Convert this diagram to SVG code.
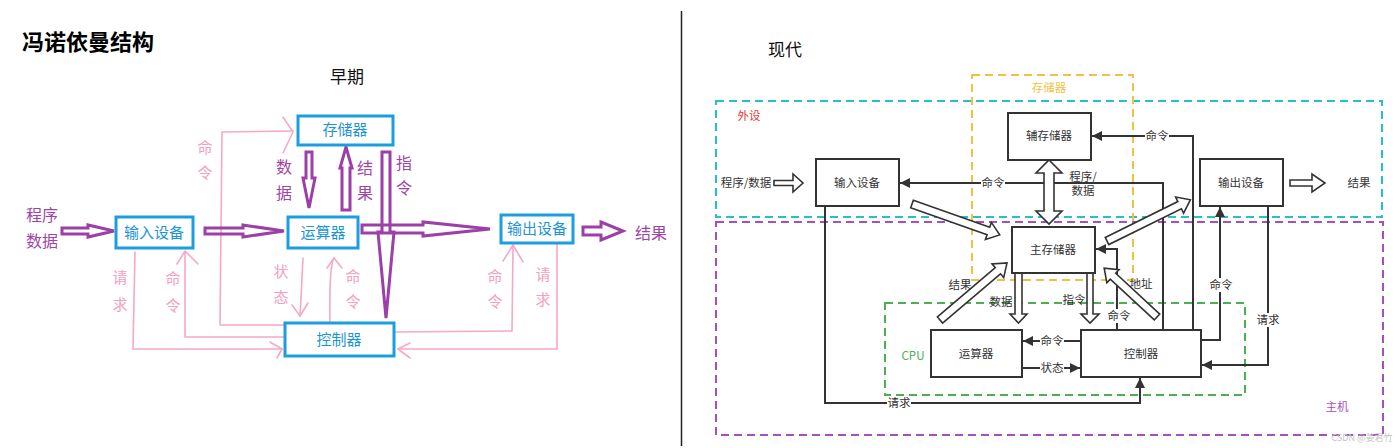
<svg xmlns="http://www.w3.org/2000/svg" width="1400" height="448" viewBox="0 0 1400 448">
<defs>
<style>
text{font-family:"Noto Sans CJK SC","Liberation Sans",sans-serif;}
.title{font-size:22px;font-weight:bold;fill:#000;}
.sub{font-size:17px;fill:#111;}
.lbox{fill:#fff;stroke:#1a9ee0;stroke-width:3;}
.ltxt{font-size:15px;fill:#1b95d6;text-anchor:middle;}
.ptxt{font-size:16px;fill:#a045a8;text-anchor:middle;}
.pink{fill:none;stroke:#f6a8c8;stroke-width:1.6;stroke-linejoin:round;stroke-linecap:round;}
.pktxt{font-size:15px;fill:#f3a0c2;text-anchor:middle;}
.parr{fill:none;stroke:#9c3fa6;stroke-width:3;stroke-linejoin:miter;}
.rbox{fill:#fff;stroke:#333;stroke-width:2;}
.rtxt{font-size:11.5px;fill:#333;text-anchor:middle;}
.conn{fill:none;stroke:#333;stroke-width:2;}
.harr{fill:#fff;stroke:#333;stroke-width:1.6;stroke-linejoin:miter;}
.bg{fill:#fff;}
.dash{fill:none;stroke-width:2;stroke-dasharray:8 5;}
</style>
<marker id="ah" viewBox="0 0 10 10" refX="10" refY="5" markerWidth="10" markerHeight="10" markerUnits="userSpaceOnUse" orient="auto">
<path d="M0,0 L10,5 L0,10 Z" fill="#333"/>
</marker>
</defs>
<rect width="1400" height="448" fill="#fff"/>

<!-- Left: early structure -->
<text class="title" x="22" y="50">冯诺依曼结构</text>
<text class="sub" x="330" y="83">早期</text>

<g id="left-connectors">
  <!-- pink control lines -->
  <polyline class="pink" points="285,325 220,325 222,132 293,131"/>
  <polyline class="pink" points="283,117 293,132 283,153"/>
  <polyline class="pink" points="135,252 133,349 282,349"/>
  <polyline class="pink" points="270,342 282,349 277,358"/>
  <polyline class="pink" points="285,337 185,337 185,252"/>
  <polyline class="pink" points="177,264 185,251 198,264"/>
  <polyline class="pink" points="303,258 300,316"/>
  <polyline class="pink" points="292,305 300,316 308,303"/>
  <path class="pink" d="M330,322 Q329,266 334,258"/>
  <polyline class="pink" points="327,268 334,258 342,268"/>
  <polyline class="pink" points="394,332 512,331 513,245"/>
  <polyline class="pink" points="503,261 513,245 523,262"/>
  <polyline class="pink" points="557,243 557,349 398,349"/>
  <polyline class="pink" points="410,343 398,349 410,358"/>
  <!-- purple data arrows -->
  <polygon class="parr" points="62,228 88,228 88,225 114,231 88,237 88,234 62,234"/>
  <polygon class="parr" points="205,228 243,228 243,225 284,231 243,237 243,234 205,234"/>
  <polygon class="parr" points="306,152 312,152 312,178 315,178 309,208 303,178 306,178"/>
  <polygon class="parr" points="342,210 350,210 350,168 352,168 346,147 340,168 342,168"/>
  <polygon class="parr" points="382,152 390,152 390,232 394,232 386,318 378,232 382,232"/>
  <polygon class="parr" points="362,225 423,225 423,222 490,229 423,236 423,233 362,233"/>
  <polygon class="parr" points="583,227 601,227 601,222 623,231 601,240 601,235 583,235"/>
</g>

<g id="left-labels">
  <text class="ptxt" x="42" y="221">程序</text>
  <text class="ptxt" x="42" y="247">数据</text>
  <text class="ptxt" x="284" y="173">数</text>
  <text class="ptxt" x="284" y="199">据</text>
  <text class="ptxt" x="365" y="174">结</text>
  <text class="ptxt" x="365" y="199">果</text>
  <text class="ptxt" x="404" y="169">指</text>
  <text class="ptxt" x="404" y="194">令</text>
  <text class="ptxt" x="651" y="239">结果</text>
  <text class="pktxt" x="205" y="153">命</text>
  <text class="pktxt" x="205" y="178">令</text>
  <text class="pktxt" x="120" y="283">请</text>
  <text class="pktxt" x="120" y="310">求</text>
  <text class="pktxt" x="173" y="284">命</text>
  <text class="pktxt" x="173" y="311">令</text>
  <text class="pktxt" x="281" y="277">状</text>
  <text class="pktxt" x="281" y="303">态</text>
  <text class="pktxt" x="353" y="282">命</text>
  <text class="pktxt" x="353" y="307">令</text>
  <text class="pktxt" x="495" y="282">命</text>
  <text class="pktxt" x="495" y="307">令</text>
  <text class="pktxt" x="543" y="280">请</text>
  <text class="pktxt" x="543" y="305">求</text>
</g>

<g id="l-storage"><rect class="lbox" x="298" y="116" width="95" height="29"/><text class="ltxt" x="345" y="135">存储器</text></g>
<g id="l-alu"><rect class="lbox" x="288" y="217" width="70" height="31"/><text class="ltxt" x="323" y="238">运算器</text></g>
<g id="l-input"><rect class="lbox" x="116" y="217" width="77" height="31"/><text class="ltxt" x="154" y="238">输入设备</text></g>
<g id="l-output"><rect class="lbox" x="501" y="215" width="72" height="28"/><text class="ltxt" x="537" y="234">输出设备</text></g>
<g id="l-control"><rect class="lbox" x="285" y="323" width="109" height="33"/><text class="ltxt" x="339" y="345">控制器</text></g>

<!-- divider -->
<line x1="681.5" y1="11" x2="681.5" y2="446" stroke="#222" stroke-width="1.5"/>

<!-- Right: modern structure -->
<text class="sub" x="768" y="56">现代</text>

<g id="groups">
  <rect class="dash" x="716" y="101" width="666" height="116" stroke="#26bfd0"/>
  <rect class="dash" x="716" y="222" width="667" height="213" stroke="#a450bf"/>
  <rect class="dash" x="972" y="75" width="161" height="205" stroke="#f3c142"/>
  <rect class="dash" x="885" y="303" width="360" height="92" stroke="#4caf50"/>
  <text x="749" y="120" font-size="11.5" fill="#e53935" text-anchor="middle">外设</text>
  <text x="1337" y="411" font-size="11.5" fill="#a450bf" text-anchor="middle">主机</text>
  <text x="1049" y="92" font-size="11.5" fill="#f3c142" text-anchor="middle">存储器</text>
  <text x="913" y="360" font-size="11.5" fill="#4caf50" text-anchor="middle">CPU</text>
</g>

<g id="right-connectors">
  <polyline class="conn" points="1163,330 1163,183 900,183" marker-end="url(#ah)"/>
  <polyline class="conn" points="1193,330 1193,136 1092,136" marker-end="url(#ah)"/>
  <polyline class="conn" points="1201,340 1220,340 1220,207" marker-end="url(#ah)"/>
  <polyline class="conn" points="1268,206 1268,365 1202,365" marker-end="url(#ah)"/>
  <polyline class="conn" points="825,206 825,403 1140,403 1140,378" marker-end="url(#ah)"/>
  <polyline class="conn" points="1081,341 1023,341" marker-end="url(#ah)"/>
  <polyline class="conn" points="1022,368 1080,368" marker-end="url(#ah)"/>
  <polyline class="conn" points="1117,330 1117,249 1096,249" marker-end="url(#ah)"/>
  <!-- hollow block arrows -->
  <polygon class="harr" points="774,180.5 793,180.5 793,174 803,183 793,192 793,185.5 774,185.5"/>
  <polygon class="harr" points="1290,180 1312,180 1312,174 1325,183 1312,192 1312,186 1290,186"/>
  <polygon class="harr" points="1049,160 1062,173 1054,173 1054,211 1062,211 1049,224 1036,211 1044,211 1044,173 1036,173"/>
  <polygon class="harr" points="1015,273 1022,273 1022,314 1027,314 1018.5,323 1010,314 1015,314"/>
  <polygon class="harr" points="1087,273 1093,273 1093,314 1099,314 1090,323 1081,314 1087,314"/>
  <polygon class="harr" transform="translate(912,204) rotate(19.4)" points="0,-4 81,-4 81,-9 93,0 81,9 81,4 0,4"/>
  <polygon class="harr" transform="translate(1107,241) rotate(-26.3)" points="0,-4 81,-4 81,-9 93,0 81,9 81,4 0,4"/>
  <polygon class="harr" transform="translate(940,320) rotate(-40.4)" points="0,-4 76,-4 76,-9 88,0 76,9 76,4 0,4"/>
  <polygon class="harr" transform="translate(1157,317) rotate(-137.2)" points="0,-4 60,-4 60,-9 72,0 60,9 60,4 0,4"/>
</g>

<g id="right-labels">
  <text class="rtxt" x="746" y="187">程序/数据</text>
  <text class="rtxt" x="1359" y="187">结果</text>
  <rect class="bg" x="981" y="176" width="24" height="14"/><text class="rtxt" x="993" y="187">命令</text>
  <rect class="bg" x="1145" y="129" width="24" height="14"/><text class="rtxt" x="1157" y="140">命令</text>
  <text class="rtxt" x="1083" y="181">程序/</text>
  <text class="rtxt" x="1083" y="195">数据</text>
  <text class="rtxt" x="960" y="289">结果</text>
  <text class="rtxt" x="1001" y="306">数据</text>
  <text class="rtxt" x="1074" y="304">指令</text>
  <text class="rtxt" x="1141" y="288">地址</text>
  <rect class="bg" x="1107" y="309" width="24" height="14"/><text class="rtxt" x="1119" y="320">命令</text>
  <rect class="bg" x="1209" y="278" width="24" height="14"/><text class="rtxt" x="1221" y="289">命令</text>
  <rect class="bg" x="1256" y="313" width="24" height="14"/><text class="rtxt" x="1268" y="324">请求</text>
  <rect class="bg" x="1040" y="334" width="24" height="14"/><text class="rtxt" x="1052" y="345">命令</text>
  <rect class="bg" x="1040" y="361" width="24" height="14"/><text class="rtxt" x="1052" y="372">状态</text>
  <rect class="bg" x="887" y="396" width="24" height="14"/><text class="rtxt" x="899" y="407">请求</text>
  <text x="1362" y="441" font-size="9" fill="#c4c4c4" text-anchor="middle">CSDN @姜君竹</text>
</g>

<g id="r-aux"><rect class="rbox" x="1008" y="113" width="83" height="47"/><text class="rtxt" x="1049" y="140">辅存储器</text></g>
<g id="r-input"><rect class="rbox" x="816" y="159" width="83" height="47"/><text class="rtxt" x="857" y="187">输入设备</text></g>
<g id="r-output"><rect class="rbox" x="1200" y="159" width="83" height="47"/><text class="rtxt" x="1241" y="187">输出设备</text></g>
<g id="r-main"><rect class="rbox" x="1012" y="227" width="83" height="46"/><text class="rtxt" x="1053" y="254">主存储器</text></g>
<g id="r-alu"><rect class="rbox" x="931" y="330" width="91" height="47"/><text class="rtxt" x="976" y="358">运算器</text></g>
<g id="r-control"><rect class="rbox" x="1081" y="330" width="120" height="47"/><text class="rtxt" x="1141" y="358">控制器</text></g>
</svg>
